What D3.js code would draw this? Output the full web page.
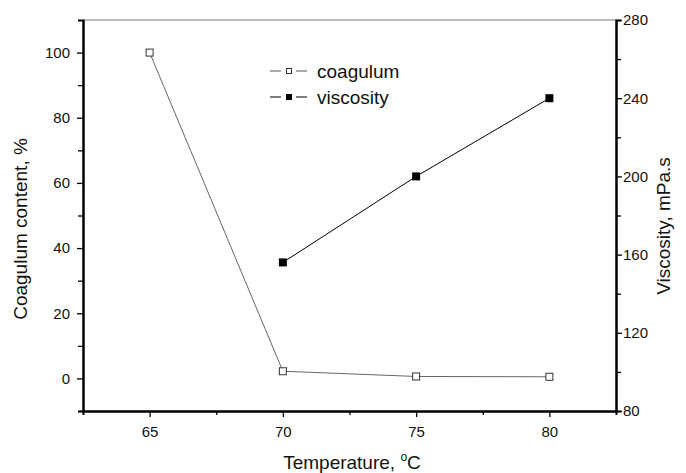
<!DOCTYPE html>
<html>
<head>
<meta charset="utf-8">
<script src="https://cdn.jsdelivr.net/npm/d3@7"></script>
<style>
    body { margin: 0; background: #fff; }
    text { font-family: "Liberation Sans", Arial, sans-serif; fill: #111; }
</style>
</head>
<body>
<div id="chart"></div>
<script>
// data
const temps = [65, 70, 75, 80];
const coagulum = [100, 2.2, 0.6, 0.5];
const viscTemps = [70, 75, 80];
const viscosity = [156, 200, 240];

const xTicks = [65, 70, 75, 80];
const xMinor = [67.5, 72.5, 77.5];
const leftTicks = [0, 20, 40, 60, 80, 100];
const leftMinor = [-10, 10, 30, 50, 70, 90];
const rightTicks = [80, 120, 160, 200, 240, 280];
const rightMinor = [100, 140, 180, 220, 260];

const W = 686, H = 473;
const margin = { top: 20, right: 70, bottom: 62, left: 83 };
const width = 616 - margin.left;
const height = 411 - margin.top;

const svg = d3.select("#chart").append("svg")
    .attr("width", W)
    .attr("height", H);

const g = svg.append("g")
    .attr("transform", `translate(${margin.left}, ${margin.top})`);

const x = d3.scaleLinear().domain([62.5, 82.5]).range([0, width]);
const yL = d3.scaleLinear().domain([-10, 110]).range([height, 0]);
const yR = d3.scaleLinear().domain([80, 280]).range([height, 0]);

// top frame line
g.append("line")
    .attr("x1", 0).attr("x2", width)
    .attr("y1", 0).attr("y2", 0)
    .attr("stroke", "#777").attr("stroke-width", 1);

function styleAxis(sel) {
    sel.select(".domain").attr("stroke", "#000").attr("stroke-width", 2);
    sel.selectAll(".tick line").attr("stroke", "#000").attr("stroke-width", 1.3);
    sel.selectAll(".tick text").style("font-size", "15px").attr("fill", "#111");
}

// minor ticks first, major axis on top
g.append("g")
    .attr("transform", `translate(0, ${height})`)
    .call(d3.axisBottom(x).tickValues(xMinor).tickSize(4).tickFormat(""))
    .call(styleAxis);
g.append("g")
    .attr("transform", `translate(0, ${height})`)
    .call(d3.axisBottom(x).tickValues(xTicks).tickSizeInner(6).tickSizeOuter(0).tickPadding(9))
    .call(styleAxis);

g.append("g")
    .call(d3.axisLeft(yL).tickValues(leftMinor).tickSize(5).tickFormat(""))
    .call(styleAxis);
g.append("g")
    .call(d3.axisLeft(yL).tickValues(leftTicks).tickSizeInner(6).tickSizeOuter(0).tickPadding(7))
    .call(styleAxis);

g.append("g")
    .attr("transform", `translate(${width}, 0)`)
    .call(d3.axisRight(yR).tickValues(rightMinor).tickSize(5).tickFormat(""))
    .call(styleAxis);
g.append("g")
    .attr("transform", `translate(${width}, 0)`)
    .call(d3.axisRight(yR).tickValues(rightTicks).tickSizeInner(6).tickSizeOuter(0).tickPadding(1))
    .call(styleAxis);

// lines
const coagData = temps.map((t, i) => ({ t: t, v: coagulum[i] }));
const viscData = viscTemps.map((t, i) => ({ t: t, v: viscosity[i] }));

g.append("path")
    .datum(coagData)
    .attr("fill", "none")
    .attr("stroke", "#666")
    .attr("stroke-width", 1)
    .attr("d", d3.line().x(d => x(d.t)).y(d => yL(d.v)));

g.append("path")
    .datum(viscData)
    .attr("fill", "none")
    .attr("stroke", "#000")
    .attr("stroke-width", 1)
    .attr("d", d3.line().x(d => x(d.t)).y(d => yR(d.v)));

const ms = 8;
g.selectAll(".coag-pt")
    .data(coagData)
    .enter().append("rect")
    .attr("class", "coag-pt")
    .attr("x", d => x(d.t) - ms / 2 + 0.5)
    .attr("y", d => yL(d.v) - ms / 2 + 0.5)
    .attr("width", ms - 1).attr("height", ms - 1)
    .attr("fill", "#fff")
    .attr("stroke", "#333")
    .attr("stroke-width", 1);

g.selectAll(".visc-pt")
    .data(viscData)
    .enter().append("rect")
    .attr("class", "visc-pt")
    .attr("x", d => x(d.t) - ms / 2)
    .attr("y", d => yR(d.v) - ms / 2)
    .attr("width", ms).attr("height", ms)
    .attr("fill", "#000");

// legend: short line, marker, short line, then label
const legend = svg.append("g").attr("transform", "translate(270, 0)");
const legendItems = [
    { name: "coagulum", y: 71, filled: false },
    { name: "viscosity", y: 97, filled: true }
];
legendItems.forEach(item => {
    const col = item.filled ? "#000" : "#555";
    legend.append("line")
        .attr("x1", 0).attr("x2", 11)
        .attr("y1", item.y).attr("y2", item.y)
        .attr("stroke", col).attr("stroke-width", 1);
    legend.append("line")
        .attr("x1", 26).attr("x2", 37)
        .attr("y1", item.y).attr("y2", item.y)
        .attr("stroke", col).attr("stroke-width", 1);
    legend.append("rect")
        .attr("x", item.filled ? 16 : 16.5)
        .attr("y", item.y - (item.filled ? 3 : 2.5))
        .attr("width", item.filled ? 6 : 5)
        .attr("height", item.filled ? 6 : 5)
        .attr("fill", item.filled ? "#000" : "#fff")
        .attr("stroke", item.filled ? "none" : "#333");
    legend.append("text")
        .attr("x", 47)
        .attr("y", item.y + 7)
        .style("font-size", "19px")
        .text(item.name);
});

// axis titles
svg.append("text")
    .attr("transform", "translate(27, 229) rotate(-90)")
    .attr("text-anchor", "middle")
    .style("font-size", "19px")
    .text("Coagulum content, %");

svg.append("text")
    .attr("transform", "translate(670, 226) rotate(-90)")
    .attr("text-anchor", "middle")
    .style("font-size", "19px")
    .text("Viscosity, mPa.s");

const xt = svg.append("text")
    .attr("x", 352)
    .attr("y", 469)
    .attr("text-anchor", "middle")
    .style("font-size", "19px");
xt.append("tspan").text("Temperature, ");
xt.append("tspan").attr("dy", -8).style("font-size", "12px").text("o");
xt.append("tspan").attr("dy", 8).text("C");
</script>
</body>
</html>
